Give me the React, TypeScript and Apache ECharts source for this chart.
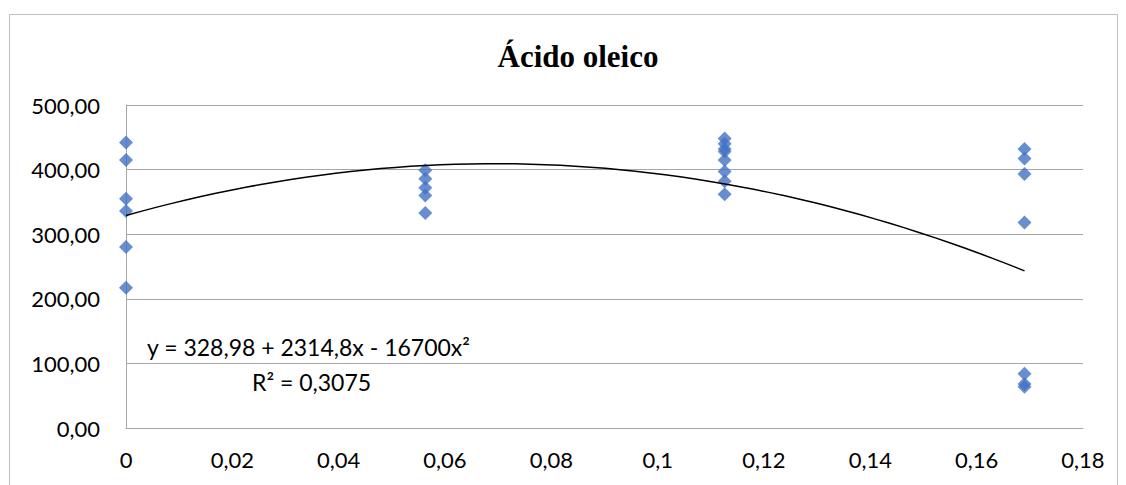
import React, { useEffect, useRef } from "react";
import * as echarts from "echarts";

const xLevels = [0, 0.0563, 0.1126, 0.169];
const group0 = [442, 415, 355, 336, 280, 217];
const group1 = [399, 386, 372, 360, 333];
const group2 = [448, 440, 432, 428, 415, 397, 382, 362];
const group3 = [432, 417, 393, 318, 84, 68, 64];
const groups = [group0, group1, group2, group3];
const trendCoefs = [328.98, 2314.8, -16700];
const trendSteps = 60;
const titleText = "Ácido oleico";
const eqLine1 = "y = 328,98 + 2314,8x - 16700x²";
const eqLine2 = "R² = 0,3075";

const LABEL_FONT = "Lato, 'Open Sans', sans-serif";

export default function App() {
  const ref = useRef<HTMLDivElement>(null);
  useEffect(() => {
    if (!ref.current) return;
    const chart = echarts.init(ref.current, null, { renderer: "svg" });
    const scatter: number[][] = [];
    groups.forEach((g, i) => g.forEach((v) => scatter.push([xLevels[i], v])));
    const xMax = xLevels[xLevels.length - 1];
    const trend: number[][] = [];
    for (let i = 0; i <= trendSteps; i++) {
      const x = (xMax * i) / trendSteps;
      trend.push([x, trendCoefs[0] + trendCoefs[1] * x + trendCoefs[2] * x * x]);
    }
    const fmtX = (v: number) => String(Number(v.toFixed(4))).replace(".", ",");
    chart.setOption({
      animation: false,
      backgroundColor: "#ffffff",
      grid: { left: 126, right: 43, top: 105, bottom: 57, containLabel: false },
      title: {
        text: titleText,
        left: 573,
        top: 36,
        textAlign: "center",
        textStyle: {
          fontFamily: "'Liberation Serif', 'Times New Roman', serif",
          fontWeight: "bold",
          fontSize: 31,
          color: "#000",
        },
      },
      xAxis: {
        type: "value",
        min: 0,
        max: 0.18,
        interval: 0.02,
        axisLine: { show: true, onZero: false, lineStyle: { color: "#A6A6A6", width: 1 } },
        axisTick: { show: false },
        splitLine: { show: false },
        axisLabel: {
          formatter: fmtX,
          color: "#000",
          fontFamily: LABEL_FONT,
          fontSize: 22,
          margin: 20,
        },
      },
      yAxis: {
        type: "value",
        min: 0,
        max: 500,
        interval: 100,
        axisLine: { show: true, onZero: false, lineStyle: { color: "#A6A6A6", width: 1 } },
        axisTick: { show: false },
        splitLine: { show: true, lineStyle: { color: "#A6A6A6", width: 1 } },
        axisLabel: {
          formatter: (v: number) => v.toFixed(2).replace(".", ","),
          color: "#000",
          fontFamily: LABEL_FONT,
          fontSize: 22,
          margin: 26,
        },
      },
      series: [
        {
          type: "line",
          data: trend,
          showSymbol: false,
          symbol: "none",
          smooth: false,
          lineStyle: { color: "#000", width: 1.5 },
          z: 3,
        },
        {
          type: "scatter",
          data: scatter,
          symbol: "diamond",
          symbolSize: 14,
          itemStyle: { color: "#4472C4" },
          z: 2,
        },
      ],
      graphic: [
        {
          type: "rect",
          shape: { x: 9.5, y: 14.5, width: 1108, height: 500 },
          style: { fill: "none", stroke: "#BFBFBF", lineWidth: 1 },
          silent: true,
          z: -1,
        },
        {
          type: "text",
          x: 147,
          y: 347,
          style: {
            text: eqLine1,
            fontFamily: LABEL_FONT,
            fontSize: 23,
            fill: "#000",
            verticalAlign: "middle",
            align: "left",
          },
        },
        {
          type: "text",
          x: 252,
          y: 382,
          style: {
            text: eqLine2,
            fontFamily: LABEL_FONT,
            fontSize: 23,
            fill: "#000",
            verticalAlign: "middle",
            align: "left",
          },
        },
      ],
    });
    return () => chart.dispose();
  }, []);
  return (
    <div
      ref={ref}
      style={{ position: "fixed", left: 0, top: 0, width: 1126, height: 485 }}
    />
  );
}
